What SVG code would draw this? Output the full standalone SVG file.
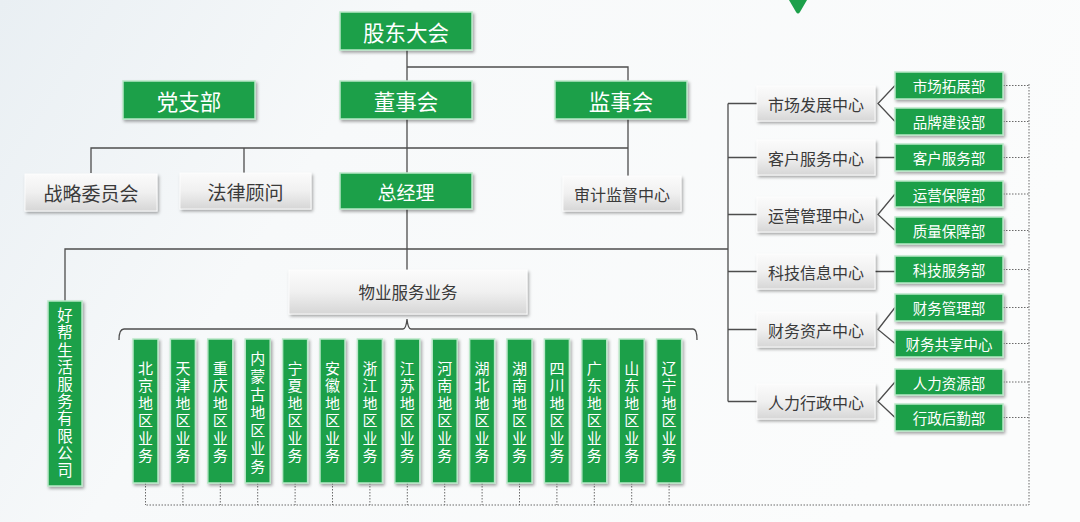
<svg xmlns="http://www.w3.org/2000/svg" width="1080" height="522" viewBox="0 0 1080 522">
<defs>
<linearGradient id="bg" x1="0" y1="0" x2="1" y2="0.3">
<stop offset="0" stop-color="#e9eff3"/>
<stop offset="0.35" stop-color="#f7f9fa"/>
<stop offset="1" stop-color="#fbfcfc"/>
</linearGradient>
<linearGradient id="gray" x1="0" y1="0" x2="0" y2="1">
<stop offset="0" stop-color="#fbfbfb"/>
<stop offset="0.5" stop-color="#f0f0f0"/>
<stop offset="1" stop-color="#d6d6d6"/>
</linearGradient>
<filter id="sh" x="-20%" y="-20%" width="140%" height="150%">
<feDropShadow dx="1.5" dy="2" stdDeviation="1.4" flood-color="#000" flood-opacity="0.35"/>
</filter>
<style>
.g{fill:#1ca04a;stroke:#b9e8c8;stroke-width:1.5;filter:url(#sh)}
.gr{fill:url(#gray);stroke:#ffffff;stroke-width:0.8;filter:url(#sh)}
.t{font-family:"Noto Sans CJK SC","Noto Sans",sans-serif;text-anchor:middle;dominant-baseline:central}
.v{font-family:"Noto Sans CJK SC","Noto Sans",sans-serif;text-anchor:middle;writing-mode:vertical-rl;font-size:15px;letter-spacing:2.5px;fill:#ffffff}
.w{fill:#ffffff}
.d{fill:#3a3a3a}
.ln{fill:none;stroke:#4d4d4d;stroke-width:1.3}
.dot{fill:none;stroke:#6a6a6a;stroke-width:1;stroke-dasharray:1.5 1.5}
</style>
</defs>
<rect x="0" y="0" width="1080" height="522" fill="url(#bg)"/>
<path d="M789,0 L807,0 L800,12 Q798,15 796,12 Z" fill="#1ca04a"/>

<g id="connectors">
<path class="ln" d="M407,50 V81 M407,67 H628 V81"/>
<path class="ln" d="M91,173 V148 H628 M244,148 V173 M407,119 V173 M628,119 V176"/>
<path class="ln" d="M407,209 V270 M65,301 V249 H728 M728,103.5 V401.5"/>
<path class="ln" d="M728,103.5 H757 M728,157.5 H757 M728,214.5 H757 M728,271.5 H757 M728,329.5 H757 M728,401.5 H757"/>
<path class="ln" d="M895,85.5 L878,103.5 L895,121.5 M875,157.5 H895 M895,194 L878,214.5 L895,230.5 M875,271.5 H895 M895,307.5 L878,329.5 L895,343.5 M895,382 L878,401.5 L895,417.5"/>
<path class="ln" d="M119,340 Q119,329 124,329 H403 Q406,329 407,319 Q408,329 411,329 H693 Q697,329 697,340"/>
<path class="dot" d="M1003,85.5 H1029 M1003,121.5 H1029 M1003,157.5 H1029 M1003,194 H1029 M1003,230.5 H1029 M1003,269.5 H1029 M1003,307.5 H1029 M1003,343.5 H1029 M1003,382 H1029 M1003,417.5 H1029 M1029,84 V505 H145.5"/>
<path class="dot" d="M145.5,483 V505 M182.9,483 V505 M220.3,483 V505 M257.7,483 V505 M295.1,483 V505 M332.5,483 V505 M369.9,483 V505 M407.3,483 V505 M444.7,483 V505 M482.1,483 V505 M519.5,483 V505 M556.9,483 V505 M594.3,483 V505 M631.7,483 V505 M669.1,483 V505"/>
</g>

<g id="gudong"><rect class="g" x="340" y="12" width="132" height="38"/><text class="t w" x="406" y="31" font-size="21.5">股东大会</text></g>
<g id="dangzhibu"><rect class="g" x="123" y="81" width="132" height="38"/><text class="t w" x="189" y="100" font-size="21.5">党支部</text></g>
<g id="dongshihui"><rect class="g" x="340" y="81" width="132" height="38"/><text class="t w" x="406" y="100" font-size="21.5">董事会</text></g>
<g id="jianshihui"><rect class="g" x="555" y="81" width="132" height="38"/><text class="t w" x="621" y="100" font-size="21.5">监事会</text></g>
<g id="zhanlue"><rect class="gr" x="25" y="174" width="132" height="37"/><text class="t d" x="91" y="192.5" font-size="19">战略委员会</text></g>
<g id="falv"><rect class="gr" x="180" y="173" width="131" height="36"/><text class="t d" x="245.5" y="191" font-size="19">法律顾问</text></g>
<g id="zongjingli"><rect class="g" x="340" y="173" width="132" height="36"/><text class="t w" x="406" y="191" font-size="19">总经理</text></g>
<g id="shenji"><rect class="gr" x="563" y="176" width="118" height="35"/><text class="t d" x="622" y="193.5" font-size="16">审计监督中心</text></g>
<g id="wuye"><rect class="gr" x="289" y="270" width="238" height="44"/><text class="t d" x="408" y="292" font-size="16.5">物业服务业务</text></g>

<g id="haobang"><rect class="g" x="48" y="301" width="34" height="185"/><text class="v" x="65" y="393.5" style="font-size:15.5px;letter-spacing:1.7px">好帮生活服务有限公司</text></g>

<g id="beijing"><rect class="g" x="133" y="339" width="25" height="144"/><text class="v" x="145.5" y="413">北京地区业务</text></g>
<g id="tianjin"><rect class="g" x="170.4" y="339" width="25" height="144"/><text class="v" x="182.9" y="413">天津地区业务</text></g>
<g id="chongqing"><rect class="g" x="207.8" y="339" width="25" height="144"/><text class="v" x="220.3" y="413">重庆地区业务</text></g>
<g id="neimenggu"><rect class="g" x="245.2" y="339" width="25" height="144"/><text class="v" x="257.7" y="414" style="letter-spacing:3px">内蒙古地区业务</text></g>
<g id="ningxia"><rect class="g" x="282.6" y="339" width="25" height="144"/><text class="v" x="295.1" y="413">宁夏地区业务</text></g>
<g id="anhui"><rect class="g" x="320" y="339" width="25" height="144"/><text class="v" x="332.5" y="413">安徽地区业务</text></g>
<g id="zhejiang"><rect class="g" x="357.4" y="339" width="25" height="144"/><text class="v" x="369.9" y="413">浙江地区业务</text></g>
<g id="jiangsu"><rect class="g" x="394.8" y="339" width="25" height="144"/><text class="v" x="407.3" y="413">江苏地区业务</text></g>
<g id="henan"><rect class="g" x="432.2" y="339" width="25" height="144"/><text class="v" x="444.7" y="413">河南地区业务</text></g>
<g id="hubei"><rect class="g" x="469.6" y="339" width="25" height="144"/><text class="v" x="482.1" y="413">湖北地区业务</text></g>
<g id="hunan"><rect class="g" x="507" y="339" width="25" height="144"/><text class="v" x="519.5" y="413">湖南地区业务</text></g>
<g id="sichuan"><rect class="g" x="544.4" y="339" width="25" height="144"/><text class="v" x="556.9" y="413">四川地区业务</text></g>
<g id="guangdong"><rect class="g" x="581.8" y="339" width="25" height="144"/><text class="v" x="594.3" y="413">广东地区业务</text></g>
<g id="shandong"><rect class="g" x="619.2" y="339" width="25" height="144"/><text class="v" x="631.7" y="413">山东地区业务</text></g>
<g id="liaoning"><rect class="g" x="656.6" y="339" width="25" height="144"/><text class="v" x="669.1" y="413">辽宁地区业务</text></g>

<g id="c-shichang"><rect class="gr" x="757" y="86" width="118" height="35"/><text class="t d" x="816" y="103.5" font-size="16">市场发展中心</text></g>
<g id="c-kehu"><rect class="gr" x="757" y="140" width="118" height="35"/><text class="t d" x="816" y="157.5" font-size="16">客户服务中心</text></g>
<g id="c-yunying"><rect class="gr" x="757" y="197" width="118" height="35"/><text class="t d" x="816" y="214.5" font-size="16">运营管理中心</text></g>
<g id="c-keji"><rect class="gr" x="757" y="254" width="118" height="35"/><text class="t d" x="816" y="271.5" font-size="16">科技信息中心</text></g>
<g id="c-caiwu"><rect class="gr" x="757" y="312" width="118" height="35"/><text class="t d" x="816" y="329.5" font-size="16">财务资产中心</text></g>
<g id="c-renli"><rect class="gr" x="757" y="384" width="118" height="35"/><text class="t d" x="816" y="401.5" font-size="16">人力行政中心</text></g>

<g id="d-tuozhan"><rect class="g" x="895" y="72" width="108" height="27"/><text class="t w" x="949" y="85.5" font-size="14.5">市场拓展部</text></g>
<g id="d-pinpai"><rect class="g" x="895" y="108" width="108" height="27"/><text class="t w" x="949" y="121.5" font-size="14.5">品牌建设部</text></g>
<g id="d-kehu"><rect class="g" x="895" y="144" width="108" height="27"/><text class="t w" x="949" y="157.5" font-size="14.5">客户服务部</text></g>
<g id="d-yunying"><rect class="g" x="895" y="181" width="108" height="26"/><text class="t w" x="949" y="194" font-size="14.5">运营保障部</text></g>
<g id="d-zhiliang"><rect class="g" x="895" y="217" width="108" height="27"/><text class="t w" x="949" y="230.5" font-size="14.5">质量保障部</text></g>
<g id="d-keji"><rect class="g" x="895" y="256" width="108" height="27"/><text class="t w" x="949" y="269.5" font-size="14.5">科技服务部</text></g>
<g id="d-caiwu"><rect class="g" x="895" y="294" width="108" height="27"/><text class="t w" x="949" y="307.5" font-size="14.5">财务管理部</text></g>
<g id="d-gongxiang"><rect class="g" x="895" y="330" width="108" height="27"/><text class="t w" x="949" y="343.5" font-size="14.5">财务共享中心</text></g>
<g id="d-renli"><rect class="g" x="895" y="369" width="108" height="26"/><text class="t w" x="949" y="382" font-size="14.5">人力资源部</text></g>
<g id="d-xingzheng"><rect class="g" x="895" y="404" width="108" height="27"/><text class="t w" x="949" y="417.5" font-size="14.5">行政后勤部</text></g>
</svg>
